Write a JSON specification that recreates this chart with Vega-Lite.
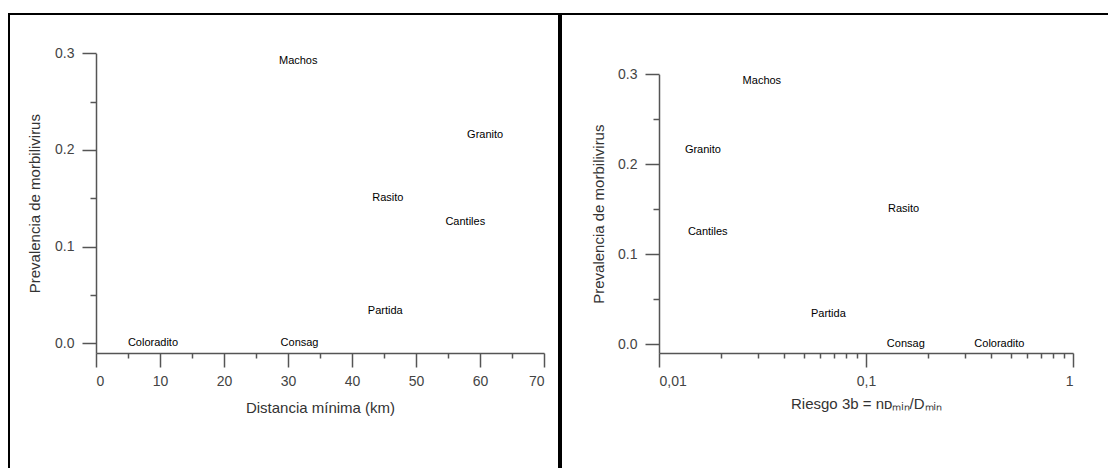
{
  "$schema": "https://vega.github.io/schema/vega-lite/v6.json",
  "padding": {"left": 8, "top": 13, "right": -4, "bottom": -4},
  "spacing": 0,
  "background": "white",
  "config": {
    "font": "Liberation Sans",
    "view": {"stroke": "black", "strokeWidth": 2},
    "axis": {
      "grid": false,
      "domainColor": "#555",
      "tickColor": "#555",
      "domainWidth": 1.5,
      "tickWidth": 1.5,
      "labelColor": "#444",
      "labelFontSize": 14,
      "labelFont": "Liberation Sans",
      "titleFont": "Liberation Sans",
      "titleFontSize": 15,
      "titleFontWeight": "normal",
      "titleColor": "#333"
    }
  },
  "datasets": {
    "sitios": [
      {"site": "Machos", "dist": 31.6, "riesgo": 0.0314, "prev": 0.292},
      {"site": "Granito", "dist": 60.8, "riesgo": 0.0163, "prev": 0.216},
      {"site": "Rasito", "dist": 45.6, "riesgo": 0.152, "prev": 0.150},
      {"site": "Cantiles", "dist": 57.7, "riesgo": 0.0172, "prev": 0.125},
      {"site": "Partida", "dist": 45.2, "riesgo": 0.0658, "prev": 0.033},
      {"site": "Coloradito", "dist": 8.9, "riesgo": 0.441, "prev": 0.0},
      {"site": "Consag", "dist": 31.8, "riesgo": 0.1557, "prev": 0.0}
    ]
  },
  "hconcat": [
    {
      "width": 550,
      "height": 458,
      "data": {"name": "sitios"},
      "layer": [
        {
          "mark": {"type": "text", "fontSize": 11, "color": "#000", "baseline": "middle", "align": "center"},
          "encoding": {
            "x": {
              "field": "dist", "type": "quantitative",
              "scale": {"domain": [0, 70], "range": [87, 535], "nice": false, "zero": false},
              "axis": {"orient": "bottom", "offset": -119, "values": [0, 10, 20, 30, 40, 50, 60, 70], "format": "d", "tickSize": 14, "labelPadding": 7, "title": "Distancia mínima (km)", "titlePadding": 12}
            },
            "y": {
              "field": "prev", "type": "quantitative",
              "scale": {"domain": [-0.01, 0.3], "range": [339, 39.3], "nice": false, "zero": false},
              "axis": {"orient": "left", "offset": -87, "values": [0, 0.1, 0.2, 0.3], "format": ".1f", "tickSize": 14, "labelPadding": 8, "title": "Prevalencia de morbilivirus", "titlePadding": 12}
            },
            "text": {"field": "site", "type": "nominal"}
          }
        },
        {
          "mark": {"type": "point", "opacity": 0},
          "encoding": {
            "x": {
              "field": "dist", "type": "quantitative",
              "scale": {"domain": [0, 70], "range": [87, 535], "nice": false, "zero": false},
              "axis": {"orient": "bottom", "offset": -119, "values": [5, 15, 25, 35, 45, 55, 65], "tickSize": 5, "labels": false, "domain": false, "title": null}
            },
            "y": {
              "field": "prev", "type": "quantitative",
              "scale": {"domain": [-0.01, 0.3], "range": [339, 39.3], "nice": false, "zero": false},
              "axis": {"orient": "left", "offset": -87, "values": [0.05, 0.15, 0.25], "tickSize": 6, "labels": false, "domain": false, "title": null}
            }
          }
        }
      ],
      "resolve": {"axis": {"x": "independent", "y": "independent"}}
    },
    {
      "width": 552,
      "height": 458,
      "data": {"name": "sitios"},
      "layer": [
        {
          "mark": {"type": "text", "fontSize": 11, "color": "#000", "baseline": "middle", "align": "center"},
          "encoding": {
            "x": {
              "field": "riesgo", "type": "quantitative",
              "scale": {"type": "log", "domain": [0.01, 1], "range": [98, 512], "nice": false},
              "axis": {"orient": "bottom", "offset": -119, "values": [0.01, 0.1, 1], "format": "~g", "labelExpr": "replace(datum.label, '.', ',')", "tickSize": 14, "labelPadding": 7, "title": "Riesgo 3b = nᴅₘᵢₙ/Dₘᵢₙ", "titlePadding": 8}
            },
            "y": {
              "field": "prev", "type": "quantitative",
              "scale": {"domain": [-0.01, 0.3], "range": [339, 60.3], "nice": false, "zero": false},
              "axis": {"orient": "left", "offset": -98, "values": [0, 0.1, 0.2, 0.3], "format": ".1f", "tickSize": 14, "labelPadding": 8, "title": "Prevalencia de morbilivirus", "titlePadding": 11}
            },
            "text": {"field": "site", "type": "nominal"}
          }
        },
        {
          "mark": {"type": "point", "opacity": 0},
          "encoding": {
            "x": {
              "field": "riesgo", "type": "quantitative",
              "scale": {"type": "log", "domain": [0.01, 1], "range": [98, 512], "nice": false},
              "axis": {"orient": "bottom", "offset": -119, "values": [0.02, 0.03, 0.04, 0.05, 0.06, 0.07, 0.08, 0.09, 0.2, 0.3, 0.4, 0.5, 0.6, 0.7, 0.8, 0.9], "tickSize": 5, "labels": false, "domain": false, "title": null}
            },
            "y": {
              "field": "prev", "type": "quantitative",
              "scale": {"domain": [-0.01, 0.3], "range": [339, 60.3], "nice": false, "zero": false},
              "axis": {"orient": "left", "offset": -98, "values": [0.05, 0.15, 0.25], "tickSize": 6, "labels": false, "domain": false, "title": null}
            }
          }
        }
      ],
      "resolve": {"axis": {"x": "independent", "y": "independent"}}
    }
  ]
}
